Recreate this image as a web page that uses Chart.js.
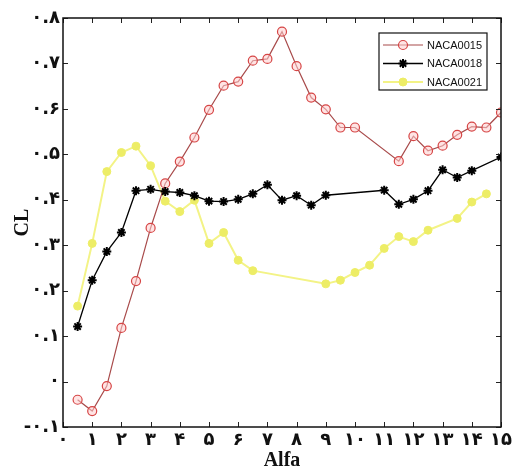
<!DOCTYPE html>
<html>
<head>
<meta charset="utf-8">
<script src="https://cdn.jsdelivr.net/npm/chart.js@4/dist/chart.umd.min.js"></script>
<style>
  html, body { margin: 0; padding: 0; background: #fff; }
  #grafico { display: block; }
</style>
</head>
<body>
<canvas id="grafico" width="516" height="473"></canvas>
<script>
// -----------------------------
// DATOS
// -----------------------------
const series = ["NACA0015", "NACA0018", "NACA0021"];

const alfa15 = [0.5, 1, 1.5, 2, 2.5, 3, 3.5, 4, 4.5, 5, 5.5, 6, 6.5, 7, 7.5, 8, 8.5, 9, 9.5, 10, 11.5, 12, 12.5, 13, 13.5, 14, 14.5, 15];
const cl15 = [-0.04, -0.065, -0.01, 0.118, 0.221, 0.338, 0.436, 0.484, 0.537, 0.598, 0.651, 0.66, 0.706, 0.71, 0.77, 0.694, 0.625, 0.599, 0.559, 0.559, 0.485, 0.54, 0.508, 0.519, 0.543, 0.561, 0.559, 0.592];

const alfa18 = [0.5, 1, 1.5, 2, 2.5, 3, 3.5, 4, 4.5, 5, 5.5, 6, 6.5, 7, 7.5, 8, 8.5, 9, 11, 11.5, 12, 12.5, 13, 13.5, 14, 15];
const cl18 = [0.121, 0.223, 0.286, 0.328, 0.42, 0.423, 0.418, 0.416, 0.409, 0.397, 0.396, 0.401, 0.413, 0.433, 0.399, 0.409, 0.388, 0.41, 0.421, 0.39, 0.401, 0.42, 0.466, 0.449, 0.464, 0.494];

const alfa21 = [0.5, 1, 1.5, 2, 2.5, 3, 3.5, 4, 4.5, 5, 5.5, 6, 6.5, 9, 9.5, 10, 10.5, 11, 11.5, 12, 12.5, 13.5, 14, 14.5];
const cl21 = [0.166, 0.304, 0.462, 0.504, 0.518, 0.475, 0.397, 0.374, 0.399, 0.304, 0.328, 0.267, 0.244, 0.215, 0.223, 0.24, 0.256, 0.293, 0.319, 0.308, 0.333, 0.359, 0.395, 0.413];

const ejeX = { min: 0, max: 15, paso: 1, titulo: "Alfa" };
const ejeY = { min: -0.1, max: 0.8, paso: 0.1, titulo: "CL" };

// -----------------------------
// UTILIDADES
// -----------------------------
function aPersa(texto) {
    return texto.replace(/\d/g, d => "۰۱۲۳۴۵۶۷۸۹"[d]);
}

function puntos(xs, ys) {
    return xs.map((x, i) => ({ x, y: ys[i] }));
}

// -----------------------------
// PLUGINS: marco con ticks internos y leyenda
// -----------------------------
const marco = {
    id: "marco",
    afterDraw(chart) {
        const { ctx, chartArea: a, scales } = chart;
        const largo = 5;
        ctx.save();
        ctx.strokeStyle = "#222";
        ctx.lineWidth = 1;
        ctx.beginPath();
        for (const t of scales.x.ticks) {
            const px = Math.round(scales.x.getPixelForValue(t.value)) + 0.5;
            ctx.moveTo(px, a.bottom); ctx.lineTo(px, a.bottom - largo);
            ctx.moveTo(px, a.top); ctx.lineTo(px, a.top + largo);
        }
        for (const t of scales.y.ticks) {
            const py = Math.round(scales.y.getPixelForValue(t.value)) + 0.5;
            ctx.moveTo(a.left, py); ctx.lineTo(a.left + largo, py);
            ctx.moveTo(a.right, py); ctx.lineTo(a.right - largo, py);
        }
        ctx.stroke();
        ctx.lineWidth = 1.5;
        ctx.strokeStyle = "#111";
        ctx.strokeRect(a.left, a.top, a.right - a.left, a.bottom - a.top);
        ctx.restore();
    }
};

const leyenda = {
    id: "leyenda",
    afterDraw(chart) {
        const ctx = chart.ctx;
        const caja = { x: 379, y: 33, w: 108, h: 57 };
        ctx.save();
        ctx.fillStyle = "#fff";
        ctx.fillRect(caja.x, caja.y, caja.w, caja.h);
        ctx.strokeStyle = "#111";
        ctx.lineWidth = 1.2;
        ctx.strokeRect(caja.x, caja.y, caja.w, caja.h);

        chart.data.datasets.forEach((ds, i) => {
            const y = caja.y + 12 + i * 18.5;
            ctx.strokeStyle = ds.borderColor;
            ctx.lineWidth = ds.borderWidth;
            ctx.beginPath();
            ctx.moveTo(caja.x + 4, y);
            ctx.lineTo(caja.x + 44, y);
            ctx.stroke();

            ctx.strokeStyle = ds.pointBorderColor;
            ctx.fillStyle = ds.pointBackgroundColor;
            ctx.lineWidth = ds.pointBorderWidth;
            Chart.helpers.drawPoint(ctx, {
                pointStyle: ds.pointStyle,
                radius: ds.pointRadius,
                rotation: 0,
                borderWidth: ds.pointBorderWidth
            }, caja.x + 24, y);

            ctx.fillStyle = "#111";
            ctx.font = "11px 'Liberation Sans', Arial, sans-serif";
            ctx.textBaseline = "middle";
            ctx.textAlign = "left";
            ctx.fillText(ds.label, caja.x + 48, y + 0.5);
        });
        ctx.restore();
    }
};

// -----------------------------
// GRÁFICO
// -----------------------------
const fuenteNumeros = { family: "'DejaVu Sans', sans-serif", size: 18, weight: "bold" };
const fuenteTitulo = { family: "'Liberation Serif', 'Times New Roman', serif", size: 20, weight: "bold" };

new Chart(document.getElementById("grafico"), {
    type: "line",
    data: {
        datasets: [
            {
                label: series[0],
                data: puntos(alfa15, cl15),
                borderColor: "#a84a4a",
                borderWidth: 1.2,
                pointStyle: "circle",
                pointRadius: 4.5,
                pointBorderWidth: 1.2,
                pointBorderColor: "#d64545",
                pointBackgroundColor: "rgba(255, 205, 205, 0.55)",
                order: 1
            },
            {
                label: series[1],
                data: puntos(alfa18, cl18),
                borderColor: "#000",
                borderWidth: 1.3,
                pointStyle: "star",
                pointRadius: 4.5,
                pointBorderWidth: 2,
                pointBorderColor: "#000",
                pointBackgroundColor: "#000",
                order: 0
            },
            {
                label: series[2],
                data: puntos(alfa21, cl21),
                borderColor: "#f3f386",
                borderWidth: 2,
                pointStyle: "circle",
                pointRadius: 4,
                pointBorderWidth: 1,
                pointBorderColor: "#eded66",
                pointBackgroundColor: "#eded66",
                order: 2
            }
        ]
    },
    options: {
        responsive: false,
        animation: false,
        events: [],
        layout: { padding: { left: 0, right: 15, top: 18, bottom: 0 } },
        elements: { line: { tension: 0 } },
        plugins: {
            legend: { display: false },
            tooltip: { enabled: false }
        },
        scales: {
            x: {
                type: "linear",
                min: ejeX.min,
                max: ejeX.max,
                afterFit: s => { s.height = 46; },
                grid: { display: false, drawTicks: false },
                border: { display: false },
                ticks: {
                    stepSize: ejeX.paso,
                    autoSkip: false,
                    maxRotation: 0,
                    padding: 3,
                    color: "#111",
                    font: fuenteNumeros,
                    callback: v => aPersa(String(Math.round(v)))
                },
                title: {
                    display: true,
                    text: ejeX.titulo,
                    color: "#111",
                    font: fuenteTitulo,
                    padding: { top: 0, bottom: 0 }
                }
            },
            y: {
                min: ejeY.min,
                max: ejeY.max,
                afterFit: s => { s.width = 63; },
                grid: { display: false, drawTicks: false },
                border: { display: false },
                ticks: {
                    stepSize: ejeY.paso,
                    autoSkip: false,
                    padding: 3,
                    color: "#111",
                    font: fuenteNumeros,
                    callback: v => {
                        const r = Math.round(v * 10) / 10;
                        if (r === 0) return "۰";
                        return aPersa(r.toFixed(1));
                    }
                },
                title: {
                    display: true,
                    text: ejeY.titulo,
                    color: "#111",
                    font: fuenteTitulo,
                    padding: { top: 11, bottom: 0 }
                }
            }
        }
    },
    plugins: [marco, leyenda]
});
</script>
</body>
</html>
